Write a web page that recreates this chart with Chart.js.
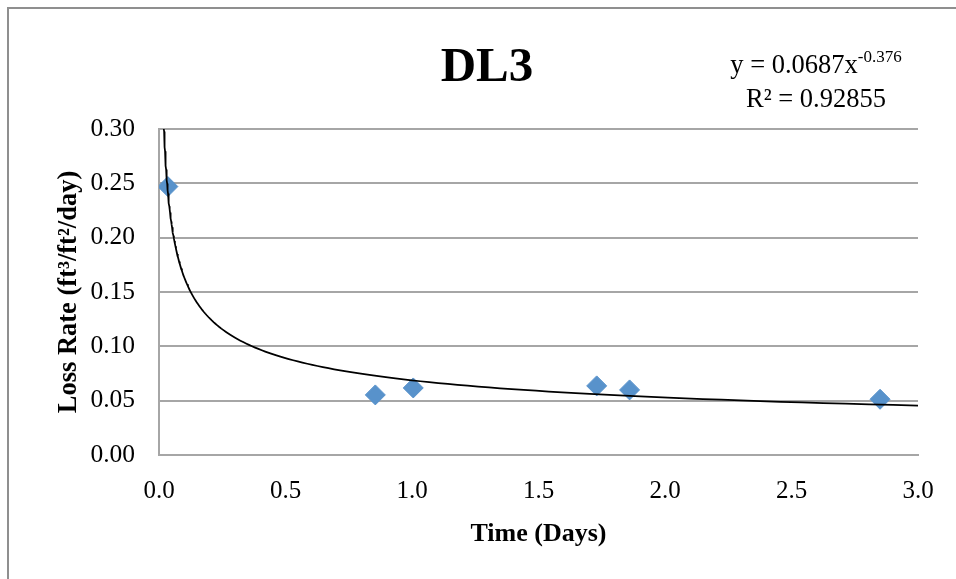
<!DOCTYPE html>
<html>
<head>
<meta charset="utf-8">
<title>DL3</title>
<script src="https://cdn.jsdelivr.net/npm/chart.js@4.4.1/dist/chart.umd.min.js"></script>
<style>
  html, body { margin: 0; padding: 0; background: #fff; }
  #frame {
    position: absolute; left: 7px; top: 7px; width: 1000px; height: 620px;
    border-left: 2px solid #8f8f8f; border-top: 2px solid #8f8f8f;
  }
  #dl3 { position: absolute; left: 0; top: 0; }
</style>
</head>
<body>
<div id="frame"></div>
<canvas id="dl3" width="956" height="579"></canvas>
<script>
// measured loss rates for cell DL3
const days = [0.035, 0.855, 1.005, 1.73, 1.86, 2.85];
const lossRates = [0.247, 0.0553, 0.0617, 0.0636, 0.0599, 0.0513];

// power trendline y = a * x^b, as reported in the fit label
const fitA = 0.0687;
const fitB = -0.376;
const fitR2 = '0.92855';

const xTicks = [0, 0.5, 1, 1.5, 2, 2.5, 3];
const yTicks = [0, 0.05, 0.1, 0.15, 0.2, 0.25, 0.3];

// trendline samples, denser near zero where the curve is steep
const trendX = Array.from({ length: 160 }, (_, i) => 0.015 * Math.pow(3 / 0.015, i / 159));
const trend = trendX.map(x => ({ x, y: fitA * Math.pow(x, fitB) }));

const serif = 'Liberation Serif, Times New Roman, serif';

// chart title plus the equation and R² text in the top right corner
const headerText = {
  id: 'headerText',
  afterDraw(chart) {
    const ctx = chart.ctx;
    ctx.save();
    ctx.fillStyle = '#000';
    ctx.textBaseline = 'alphabetic';

    ctx.textAlign = 'center';
    ctx.font = 'bold 49px ' + serif;
    ctx.fillText('DL3', 487, 81);

    const cx = 816;
    ctx.textAlign = 'left';
    const main = 'y = ' + fitA + 'x';
    const sup = String(fitB);
    ctx.font = '26.5px ' + serif;
    const wMain = ctx.measureText(main).width;
    ctx.font = '17px ' + serif;
    const wSup = ctx.measureText(sup).width;
    const x0 = cx - (wMain + wSup) / 2;
    ctx.font = '26.5px ' + serif;
    ctx.fillText(main, x0, 73);
    ctx.font = '17px ' + serif;
    ctx.fillText(sup, x0 + wMain, 62);
    ctx.font = '26.5px ' + serif;
    ctx.textAlign = 'center';
    ctx.fillText('R² = ' + fitR2, cx, 107);
    ctx.restore();
  }
};

new Chart(document.getElementById('dl3'), {
  type: 'scatter',
  data: {
    datasets: [
      {
        label: 'Power fit',
        data: trend,
        showLine: true,
        borderColor: '#000',
        borderWidth: 1.75,
        pointRadius: 0,
        tension: 0,
        order: 0
      },
      {
        label: 'DL3',
        data: days.map((d, i) => ({ x: d, y: lossRates[i] })),
        pointStyle: 'rectRot',
        pointRadius: 10,
        backgroundColor: '#5892cb',
        borderColor: '#5892cb',
        borderWidth: 1,
        order: 1
      }
    ]
  },
  options: {
    responsive: false,
    animation: false,
    devicePixelRatio: 1,
    layout: { padding: { left: 10, right: 38, top: 129, bottom: 0 } },
    plugins: {
      legend: { display: false },
      tooltip: { enabled: false },
      title: { display: false }
    },
    scales: {
      x: {
        type: 'linear',
        min: 0,
        max: 3,
        afterBuildTicks: s => { s.ticks = xTicks.map(v => ({ value: v })); },
        afterFit: s => { s.height = 124; },
        grid: { display: false, drawTicks: false },
        border: { display: true, color: '#a6a6a6', width: 2 },
        ticks: {
          color: '#000',
          padding: 21,
          font: { family: serif, size: 25 },
          callback: v => v.toFixed(1)
        },
        title: {
          display: true,
          text: 'Time (Days)',
          color: '#000',
          font: { family: serif, size: 26, weight: 'bold' },
          padding: { top: 0, bottom: 29 }
        }
      },
      y: {
        type: 'linear',
        min: 0,
        max: 0.3,
        afterBuildTicks: s => { s.ticks = yTicks.map(v => ({ value: v })); },
        afterFit: s => { s.width = 149; },
        grid: { color: '#a6a6a6', lineWidth: 2, drawTicks: false },
        border: { display: true, color: '#a6a6a6', width: 2 },
        ticks: {
          color: '#000',
          padding: 24,
          font: { family: serif, size: 25.5 },
          callback: v => v.toFixed(2)
        },
        title: {
          display: true,
          text: 'Loss Rate (ft³/ft²/day)',
          color: '#000',
          font: { family: serif, size: 26.5, weight: 'bold' },
          padding: { top: 43, bottom: 0 }
        }
      }
    }
  },
  plugins: [headerText]
});
</script>
</body>
</html>
